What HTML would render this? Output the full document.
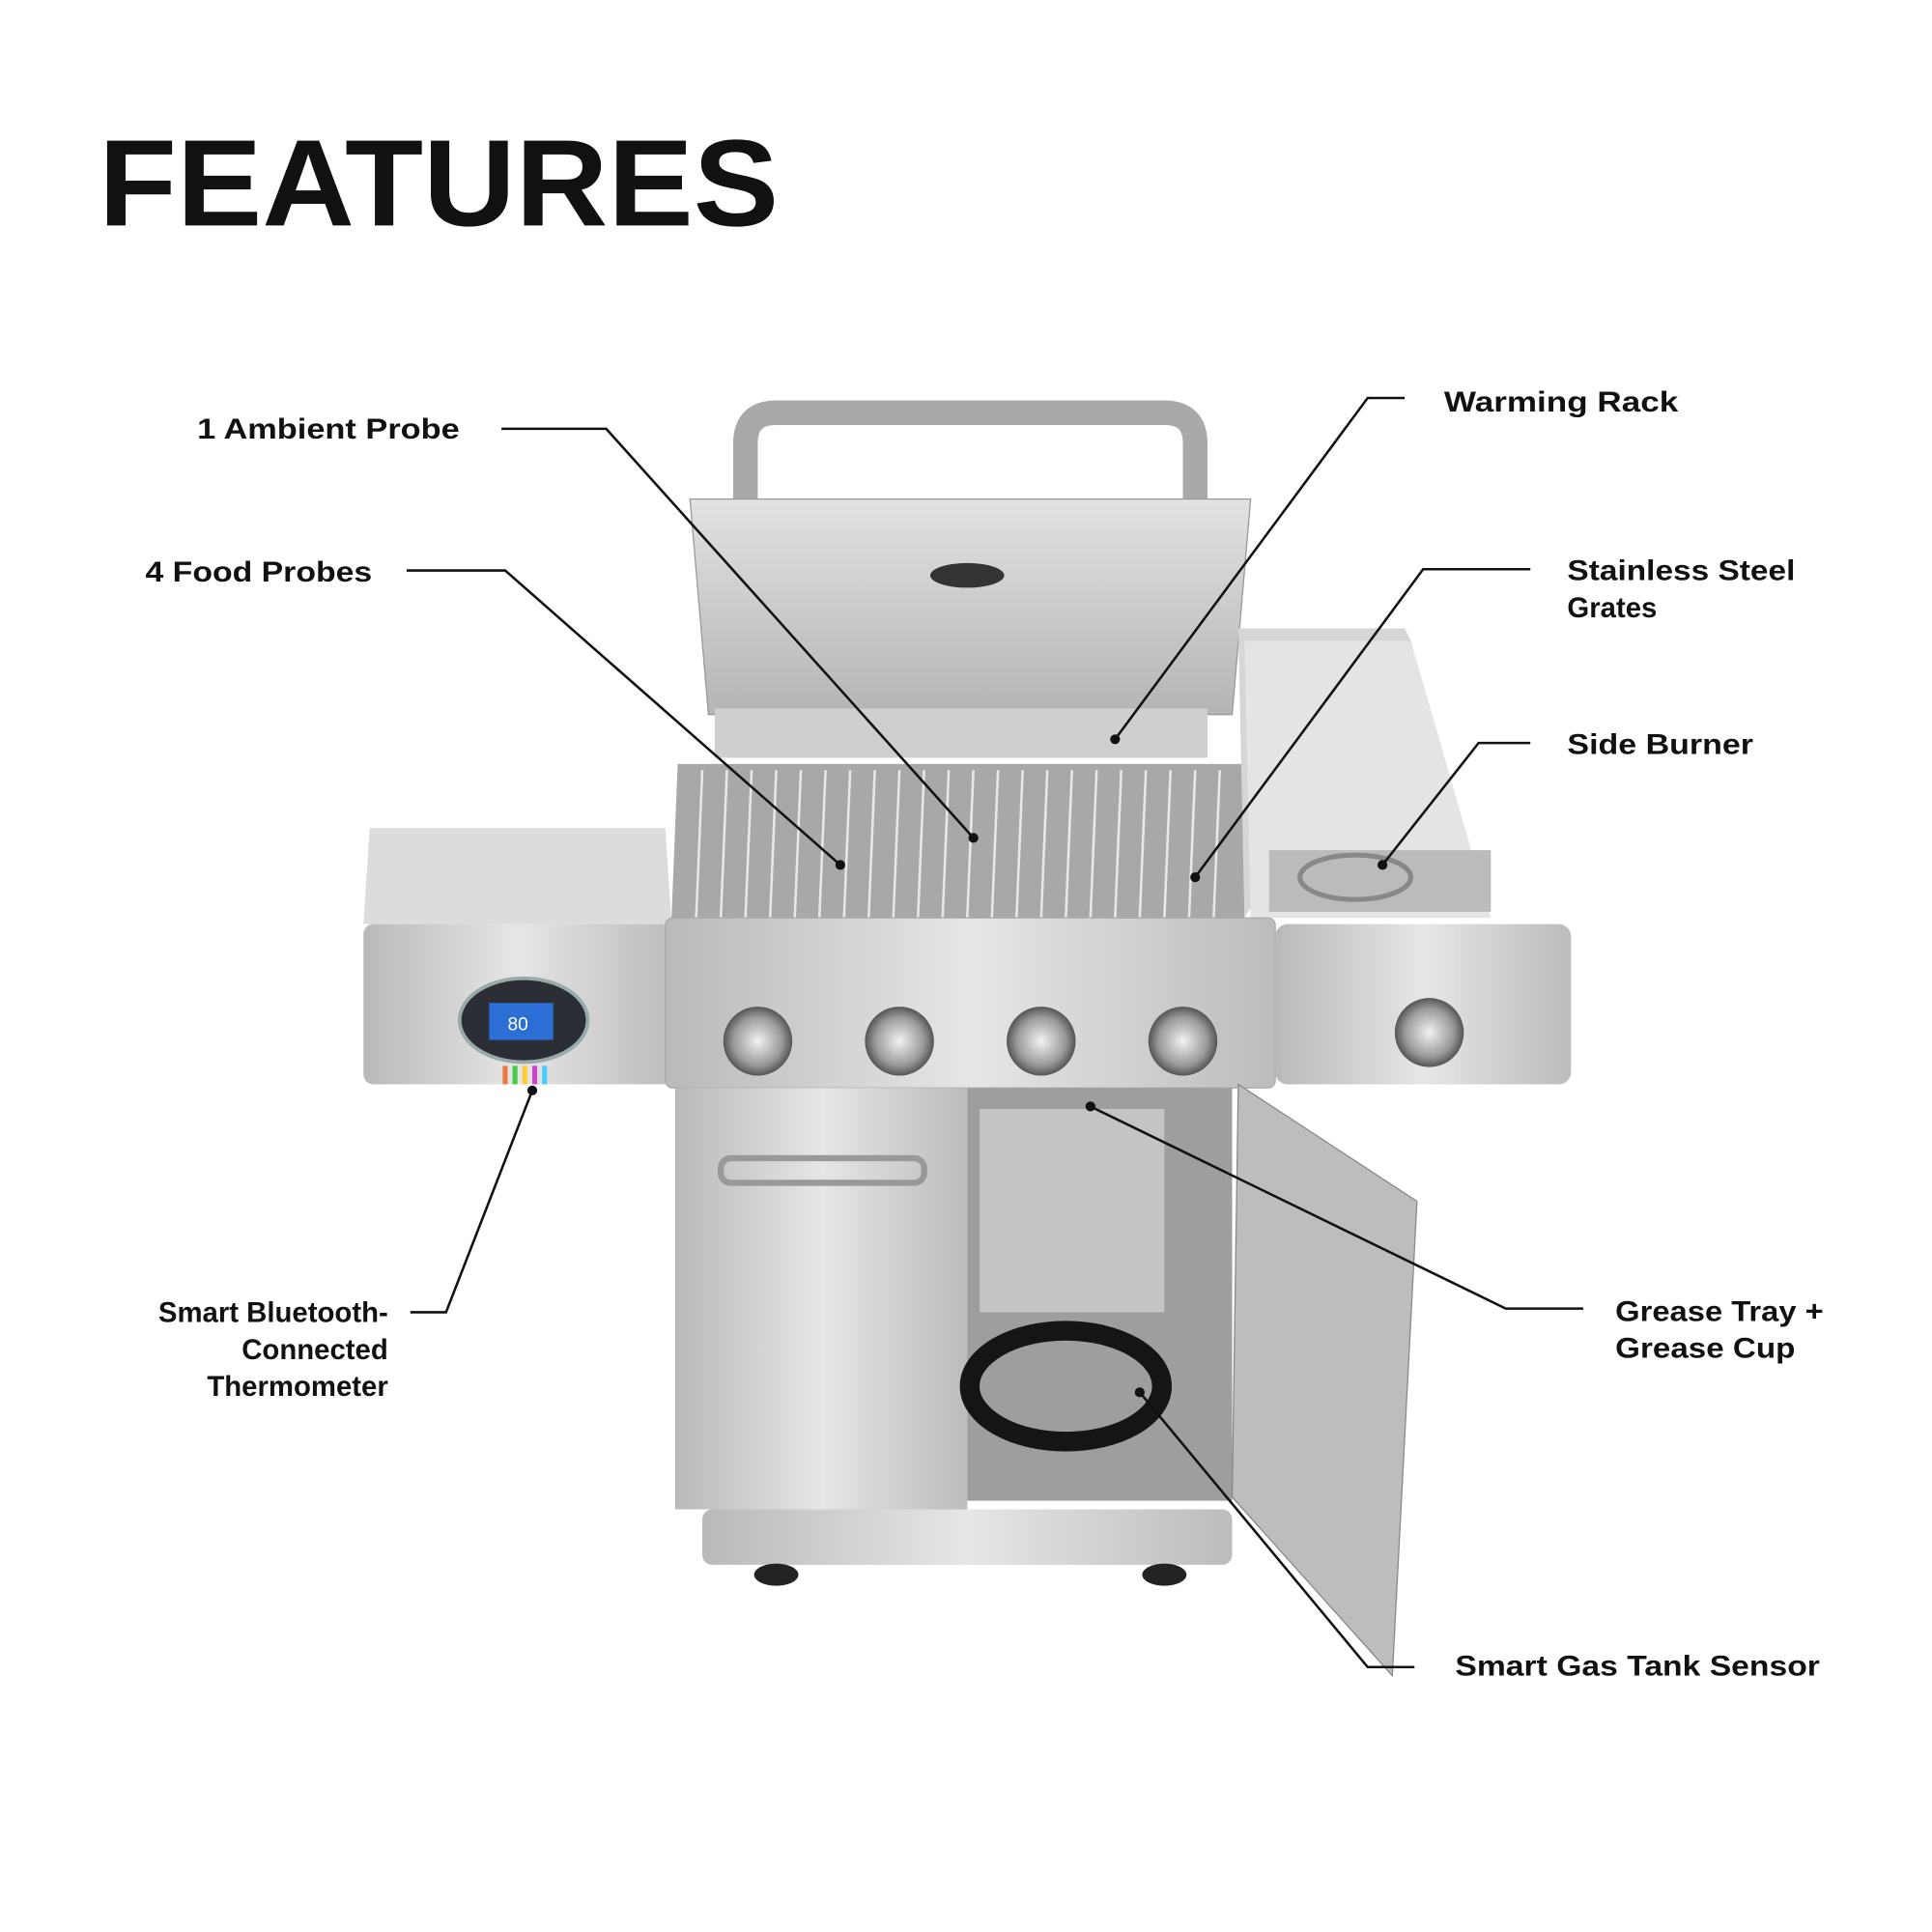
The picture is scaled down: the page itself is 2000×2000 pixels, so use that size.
<!DOCTYPE html>
<html><head><meta charset="utf-8"><style>
html,body{margin:0;padding:0;background:#fff;}
svg{display:block;}
text{font-family:"Liberation Sans",sans-serif;fill:#111;}
</style></head><body>
<svg width="2000" height="2000" viewBox="0 0 1568 1568" xmlns="http://www.w3.org/2000/svg">
<defs>
<linearGradient id="st" x1="0" x2="1" y1="0" y2="0">
<stop offset="0" stop-color="#b9b9b9"/><stop offset="0.5" stop-color="#e6e6e6"/><stop offset="1" stop-color="#bcbcbc"/></linearGradient>
<linearGradient id="stv" x1="0" x2="0" y1="0" y2="1">
<stop offset="0" stop-color="#e2e2e2"/><stop offset="1" stop-color="#b5b5b5"/></linearGradient>
<radialGradient id="kn"><stop offset="0" stop-color="#f2f2f2"/><stop offset="0.7" stop-color="#9a9a9a"/><stop offset="1" stop-color="#555"/></radialGradient>
</defs>
<text x="80" y="183" font-size="100" font-weight="bold" textLength="552" lengthAdjust="spacingAndGlyphs">FEATURES</text>

<!-- grill -->
<path d="M605 410 L605 360 Q605 335 630 335 L945 335 Q970 335 970 360 L970 410" fill="none" stroke="#a9a9a9" stroke-width="20"/>
<polygon points="560,405 1015,405 1000,580 575,580" fill="url(#stv)" stroke="#999"/>
<ellipse cx="785" cy="467" rx="30" ry="10" fill="#333"/>
<rect x="580" y="575" width="400" height="40" fill="#cfcfcf"/>
<polygon points="550,620 1010,620 1010,745 545,745" fill="#a8a8a8"/>
<g stroke="#e8e8e8" stroke-width="2">
<line x1="570" y1="625" x2="565" y2="745"/><line x1="590" y1="625" x2="585" y2="745"/><line x1="610" y1="625" x2="605" y2="745"/><line x1="630" y1="625" x2="625" y2="745"/><line x1="650" y1="625" x2="645" y2="745"/><line x1="670" y1="625" x2="665" y2="745"/><line x1="690" y1="625" x2="685" y2="745"/><line x1="710" y1="625" x2="705" y2="745"/><line x1="730" y1="625" x2="725" y2="745"/><line x1="750" y1="625" x2="745" y2="745"/><line x1="770" y1="625" x2="765" y2="745"/><line x1="790" y1="625" x2="785" y2="745"/><line x1="810" y1="625" x2="805" y2="745"/><line x1="830" y1="625" x2="825" y2="745"/><line x1="850" y1="625" x2="845" y2="745"/><line x1="870" y1="625" x2="865" y2="745"/><line x1="890" y1="625" x2="885" y2="745"/><line x1="910" y1="625" x2="905" y2="745"/><line x1="930" y1="625" x2="925" y2="745"/><line x1="950" y1="625" x2="945" y2="745"/><line x1="970" y1="625" x2="965" y2="745"/><line x1="990" y1="625" x2="985" y2="745"/>
</g>
<polygon points="300,672 540,672 545,750 295,750" fill="#dcdcdc"/>
<rect x="295" y="750" width="250" height="130" rx="8" fill="url(#st)"/>
<polygon points="1005,510 1140,510 1145,520 1010,745" fill="#d6d6d6"/>
<polygon points="1010,520 1145,520 1210,745 1015,745" fill="#e4e4e4"/>
<rect x="1030" y="690" width="180" height="50" fill="#bbb"/>
<ellipse cx="1100" cy="712" rx="45" ry="18" fill="none" stroke="#888" stroke-width="4"/>
<rect x="540" y="745" width="495" height="138" rx="6" fill="url(#st)" stroke="#aaa"/>
<rect x="1035" y="750" width="240" height="130" rx="10" fill="url(#st)"/>
<circle cx="615" cy="845" r="28" fill="url(#kn)"/><circle cx="730" cy="845" r="28" fill="url(#kn)"/><circle cx="845" cy="845" r="28" fill="url(#kn)"/><circle cx="960" cy="845" r="28" fill="url(#kn)"/><circle cx="1160" cy="838" r="28" fill="url(#kn)"/>
<ellipse cx="425" cy="828" rx="52" ry="34" fill="#2b2f35" stroke="#9aa" stroke-width="3"/>
<rect x="397" y="814" width="52" height="30" fill="#2b6fd6"/>
<text x="412" y="836" font-size="15" style="fill:#fff">80</text>
<g stroke-width="4"><line x1="410" y1="865" x2="410" y2="880" stroke="#e74"/><line x1="418" y1="865" x2="418" y2="880" stroke="#4c4"/><line x1="426" y1="865" x2="426" y2="880" stroke="#fc3"/><line x1="434" y1="865" x2="434" y2="880" stroke="#c4c"/><line x1="442" y1="865" x2="442" y2="880" stroke="#4cf"/></g>
<rect x="548" y="883" width="237" height="342" fill="url(#st)"/>
<rect x="585" y="940" width="165" height="20" rx="8" fill="none" stroke="#999" stroke-width="5"/>
<rect x="785" y="883" width="215" height="335" fill="#9e9e9e"/>
<rect x="795" y="900" width="150" height="165" fill="#c4c4c4"/>
<ellipse cx="865" cy="1125" rx="78" ry="45" fill="none" stroke="#151515" stroke-width="16"/>
<polygon points="1005,880 1150,975 1130,1360 1000,1215" fill="#bdbdbd" stroke="#888"/>
<rect x="570" y="1225" width="430" height="45" rx="8" fill="url(#st)"/>
<ellipse cx="630" cy="1278" rx="18" ry="9" fill="#222"/><ellipse cx="945" cy="1278" rx="18" ry="9" fill="#222"/>

<!-- leaders -->
<g fill="none" stroke="#111" stroke-width="2">
<polyline points="407,348 492,348 790,680"/>
<polyline points="330,463 410,463 682,702"/>
<polyline points="333,1065 362,1065 432,885"/>
<polyline points="1140,323 1110,323 905,600"/>
<polyline points="1242,462 1155,462 970,712"/>
<polyline points="1242,603 1200,603 1122,702"/>
<polyline points="1285,1062 1222,1062 885,898"/>
<polyline points="1148,1353 1110,1353 925,1130"/>
</g>
<g fill="#111"><circle cx="790" cy="680" r="4"/><circle cx="682" cy="702" r="4"/><circle cx="432" cy="885" r="4"/><circle cx="905" cy="600" r="4"/><circle cx="970" cy="712" r="4"/><circle cx="1122" cy="702" r="4"/><circle cx="885" cy="898" r="4"/><circle cx="925" cy="1130" r="4"/></g>

<g font-size="23" font-weight="bold">
<text x="160" y="356" textLength="213" lengthAdjust="spacingAndGlyphs">1 Ambient Probe</text>
<text x="118" y="472" textLength="184" lengthAdjust="spacingAndGlyphs">4 Food Probes</text>
<text x="315" y="1073" text-anchor="end">Smart Bluetooth-</text>
<text x="315" y="1103" text-anchor="end">Connected</text>
<text x="315" y="1133" text-anchor="end">Thermometer</text>
<text x="1172" y="334" textLength="190" lengthAdjust="spacingAndGlyphs">Warming Rack</text>
<text x="1272" y="471" textLength="185" lengthAdjust="spacingAndGlyphs">Stainless Steel</text>
<text x="1272" y="501">Grates</text>
<text x="1272" y="612" textLength="151" lengthAdjust="spacingAndGlyphs">Side Burner</text>
<text x="1311" y="1072" textLength="169" lengthAdjust="spacingAndGlyphs">Grease Tray +</text>
<text x="1311" y="1102" textLength="146" lengthAdjust="spacingAndGlyphs">Grease Cup</text>
<text x="1181" y="1360" textLength="296" lengthAdjust="spacingAndGlyphs">Smart Gas Tank Sensor</text>
</g>
</svg>
</body></html>
